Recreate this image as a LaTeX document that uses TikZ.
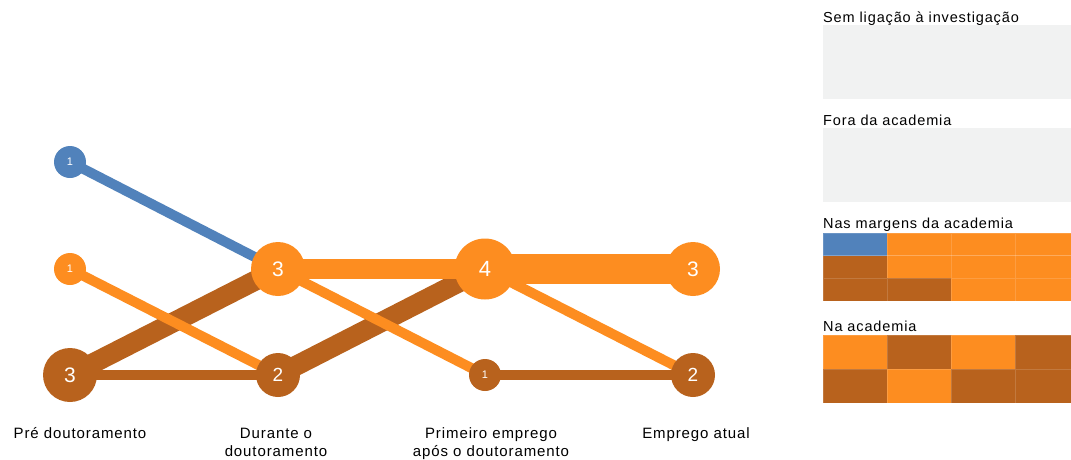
\documentclass[tikz,border=0pt]{standalone}
\usepackage{fontspec}
\setmainfont{Liberation Sans}[LetterSpace=6]
\usetikzlibrary{backgrounds}
\definecolor{blu}{RGB}{81,130,187}
\definecolor{ora}{RGB}{253,141,32}
\definecolor{bro}{RGB}{184,98,29}
\definecolor{gry}{RGB}{241,242,242}

\begin{document}
\begin{tikzpicture}[x=1pt,y=-1pt,
  every node/.style={font=\fontsize{14.5}{18}\selectfont},
  bubble/.style={circle,inner sep=0pt,text=white,fill=#1},
  one/.style={bubble=#1,minimum size=32pt,font=\fontsize{11}{11}\selectfont},
  two/.style={bubble=#1,minimum size=44pt,font=\fontsize{19}{19}\selectfont},
  three/.style={bubble=#1,minimum size=54pt,font=\fontsize{21}{21}\selectfont},
  four/.style={bubble=#1,minimum size=61pt,font=\fontsize{22}{22}\selectfont},
  flow/.style={line width=#1*10pt},
  stage/.style={anchor=base,align=center,font=\fontsize{15}{18}\selectfont},
  cell/.style={draw=white,draw opacity=0.15,line width=0.5pt}]
\useasboundingbox (0,0) rectangle (1071,459);
\clip (0,0) rectangle (1071,459);
%nodes
\node[one=blu] (pre1) at (70,162) {1};
\node[one=ora] (pre2) at (70,269) {1};
\node[three=bro] (pre3) at (70,375) {3};
\node[three=ora] (dur2) at (278,269) {3};
\node[two=bro] (dur3) at (278,375) {2};
\node[four=ora] (emp2) at (485,269) {4};
\node[one=bro] (emp3) at (485,375) {1};
\node[three=ora] (atu2) at (693,269) {3};
\node[two=bro] (atu3) at (693,375) {2};
%flows
\begin{scope}[on background layer]
\draw[bro,flow=2] (pre3.center)--(dur2.center);
\draw[bro,flow=1] (pre3.center)--(dur3.center);
\draw[bro,flow=2] (dur3.center)--(emp2.center);
\draw[bro,flow=1] (emp3.center)--(atu3.center);
\draw[ora,flow=1] (pre2.center)--(dur3.center);
\draw[ora,flow=2] (dur2.center)--(emp2.center);
\draw[ora,flow=1] (dur2.center)--(emp3.center);
\draw[ora,flow=3] (emp2.center)--(atu2.center);
\draw[ora,flow=1] (emp2.center)--(atu3.center);
\draw[blu,flow=1] (pre1.center)--(dur2.center);
\end{scope}
%stages
\node[stage] (lpre) at (80,438) {Pré doutoramento};
\node[stage] (ldur) at (276,456) {Durante o\\doutoramento};
\node[stage] (lemp) at (491,456) {Primeiro emprego\\após o doutoramento};
\node[stage] (latu) at (696,438) {Emprego atual};
%legend
\node[anchor=base west,inner sep=0pt] (sem) at (823,22) {Sem ligação à investigação};
\fill[gry] (823,25) rectangle (1071,99);
\node[anchor=base west,inner sep=0pt] (fora) at (823,125) {Fora da academia};
\fill[gry] (823,128) rectangle (1071,202);
\node[anchor=base west,inner sep=0pt] (marg) at (823,228) {Nas margens da academia};
\foreach \y/\row in {233/{blu,ora,ora,ora},255.7/{bro,ora,ora,ora},278.3/{bro,bro,ora,ora}}
  \foreach \c [count=\i from 0] in \row
    \draw[cell,fill=\c] (823+64*\i,\y) rectangle +(64,22.7);
\node[anchor=base west,inner sep=0pt] (acad) at (823,331) {Na academia};
\foreach \y/\row in {335/{ora,bro,ora,bro},369/{bro,ora,bro,bro}}
  \foreach \c [count=\i from 0] in \row
    \draw[cell,fill=\c] (823+64*\i,\y) rectangle +(64,34);
\end{tikzpicture}
\end{document}
